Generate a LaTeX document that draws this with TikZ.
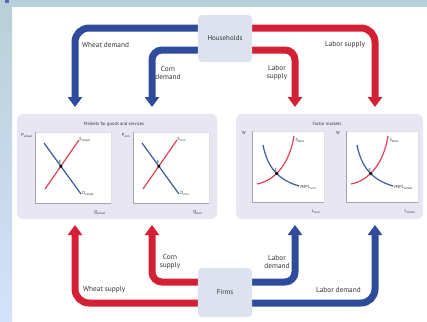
\documentclass[tikz,border=0pt]{standalone}
\usepackage{fontspec}
\setmainfont{PT Sans}
\usetikzlibrary{arrows.meta,intersections}
\definecolor{ablue}{HTML}{2F4C9C}
\definecolor{ared}{HTML}{D42035}
\definecolor{gblue}{HTML}{3D5C9E}
\definecolor{gred}{HTML}{DA4456}
\definecolor{panelc}{HTML}{E8E6F3}
\definecolor{boxc}{HTML}{DCE3EE}
\definecolor{topc}{HTML}{B8D0D7}
\definecolor{leftc}{HTML}{D4E1FB}
\definecolor{markc}{HTML}{5E62C2}
\definecolor{txt}{HTML}{333333}
\pgfdeclarelayer{bg}
\pgfdeclarelayer{flows}
\pgfsetlayers{bg,flows,main}
\tikzset{
  flow/.style={line width=7bp, -{Triangle[width=14bp,length=10bp]}},
  outer/.style={rounded corners=14bp},
  inner/.style={rounded corners=10bp},
  lbl/.style={font=\fontsize{7.3}{8.3}\selectfont, text=txt, inner sep=0pt},
  agent/.style={fill=boxc, rounded corners=4bp, minimum width=54bp, inner sep=0pt,
    font=\fontsize{7}{8}\selectfont, text=txt},
  panel/.style={fill=panelc, rounded corners=6bp, inner sep=0pt},
  ptitle/.style={font=\fontsize{4.6}{5.5}\selectfont, text=txt, inner sep=0pt},
  glbl/.style={font=\fontsize{4.4}{5}\selectfont, text=txt, inner sep=0.3bp},
  elbl/.style={glbl, anchor=south east, xshift=1bp, yshift=2bp},
  gbox/.style={draw=gray!25, fill=white, inner sep=0pt, anchor=north west},
  gaxis/.style={draw=gray!70, line width=0.6bp},
  sline/.style={gred, line width=1.2bp},
  dline/.style={gblue, line width=1.2bp},
  sdgraph/.pic={
    \node[gbox, minimum width=76bp, minimum height=71bp] (-box) at (0,0) {};
    \draw[gaxis] (-box.north west) -- (-box.south west) -- (-box.south east);
    \draw[dline, name path=dd] (9,11) -- (46,62);
    \draw[sline, name path=ss] (10,57) -- (44,8);
    \fill[black, name intersections={of=dd and ss}] (intersection-1) circle (1.7bp)
      node[elbl] {E};
    \node[glbl, anchor=west] at (44,7) {S\textsubscript{#1}};
    \node[glbl, anchor=west] at (47,61) {D\textsubscript{#1}};
    \node[glbl, anchor=east] at (-2,3) {P\textsubscript{#1}};
    \node[glbl] at (65,80) {Q\textsubscript{#1}};
  },
  lgraph/.pic={
    \node[gbox, minimum width=72bp, minimum height=71bp] (-box) at (0,0) {};
    \draw[gaxis] (-box.north west) -- (-box.south west) -- (-box.south east);
    \draw[sline, name path=ss] (5,53) .. controls (25,49) and (38,30) .. (42,5);
    \draw[dline, name path=dd] (11,14) .. controls (16,40) and (30,50) .. (47,55);
    \fill[black, name intersections={of=dd and ss}] (intersection-1) circle (1.7bp)
      node[elbl] {E};
    \node[glbl, anchor=west] at (43,9) {S\textsubscript{labor}};
    \node[glbl, anchor=west] at (47,56) {VMPL\textsubscript{#1}};
    \node[glbl] at (-8,2) {W};
    \node[glbl] at (64,80) {L\textsubscript{#1}};
  }
}
\begin{document}
\begin{tikzpicture}[x=1bp,y=-1bp]
\useasboundingbox (0,0) rectangle (427,322);
\begin{pgfonlayer}{bg}
  \fill[white] (0,0) rectangle (427,322);
  \fill[topc] (0,0) rectangle (427,7);
  \shade[top color=topc, bottom color=leftc] (0,0) rectangle (12,322);
  \fill[markc] (5,0) rectangle (8.5,2.8);
\end{pgfonlayer}

% agents
\node[agent, minimum height=47bp] (hh) at (225,38.5) {Households};
\node[agent, minimum height=49bp] (fm) at (225,292.5) {Firms};

% panels
\path[panel] (17,114) rectangle (217,219);
\node[inner sep=0pt, minimum width=200bp, minimum height=105bp] (gp) at (117,166.5) {};
\path[panel] (236,114) rectangle (423,219);
\node[inner sep=0pt, minimum width=187bp, minimum height=105bp] (fp) at (329.5,166.5) {};
\node[ptitle] (gpt) at (114,124) {Markets for goods and services};
\node[ptitle] (fpt) at (327,124) {Factor markets};

% graphs
\pic (g1) at (35,132) {sdgraph=wheat};
\pic (g2) at (133,132) {sdgraph=corn};
\pic (g3) at (252,131) {lgraph=corn};
\pic (g4) at (346,131) {lgraph=wheat};

% arrow end points
\coordinate (wdE) at (75,107);
\coordinate (cdE) at (152,107);
\coordinate (lsiE) at (295,107);
\coordinate (lsoE) at (375,107);
\coordinate (wsE) at (75,225);
\coordinate (csE) at (152,225);
\coordinate (ldiE) at (295,225);
\coordinate (ldoE) at (375,225);

\begin{pgfonlayer}{flows}
  \draw[flow, outer, ablue] (hh.west |- 0,28) -| (wdE);
  \draw[flow, inner, ablue] (hh.west |- 0,50) -| (cdE);
  \draw[flow, inner, ared] (hh.east |- 0,50) -| (lsiE);
  \draw[flow, outer, ared] (hh.east |- 0,28) -| (lsoE);
  \draw[flow, outer, ared] (fm.west |- 0,303) -| (wsE);
  \draw[flow, inner, ared] (fm.west |- 0,282) -| (csE);
  \draw[flow, inner, ablue] (fm.east |- 0,282) -| (ldiE);
  \draw[flow, outer, ablue] (fm.east |- 0,303) -| (ldoE);
\end{pgfonlayer}

% flow labels
\node[lbl, anchor=west] (l1) at (82,45) {Wheat demand};
\node[lbl, align=center] (l2) at (168,73) {Corn\\demand};
\node[lbl, align=center] (l3) at (277,73) {Labor\\supply};
\node[lbl, anchor=west] (l4) at (325,45) {Labor supply};
\node[lbl, align=center] (l5) at (170,262) {Corn\\supply};
\node[lbl, anchor=west] (l6) at (83,290) {Wheat supply};
\node[lbl, align=center] (l7) at (277,262) {Labor\\demand};
\node[lbl, anchor=west] (l8) at (316,290) {Labor demand};
\end{tikzpicture}
\end{document}
